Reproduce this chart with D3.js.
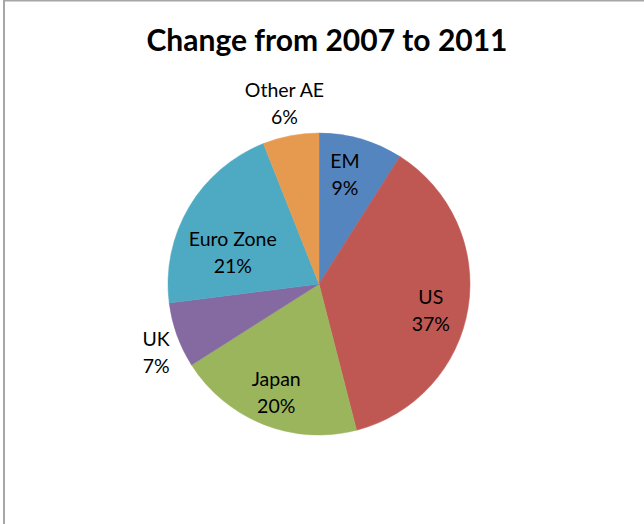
<!DOCTYPE html>
<html>
<head>
<meta charset="utf-8">
<script src="https://cdn.jsdelivr.net/npm/d3@7"></script>
<style>
  html, body { margin: 0; padding: 0; background: #fff; }
  svg { display: block; }
</style>
</head>
<body>
<svg id="chart" width="644" height="524"></svg>
<script>
// ---- data ----
const categories = ["EM", "US", "Japan", "UK", "Euro Zone", "Other AE"];
const shares = [9, 37, 20, 7, 21, 6];
const chartTitle = "Change from 2007 to 2011";

// ---- style ----
const colors = ["#5585BE", "#BF5753", "#9BB55C", "#846AA1", "#4EAAC3", "#E69A50"];
// label placement (best-fit style): radius factor relative to pie radius, angle shift in degrees
const labelRadiusFactor = [0.75, 0.76, 0.77, 1.17, 0.61, 1.22];
const labelAngleShift = [-3, 4, 0, -3, -10, 0];

const W = 644, H = 524;
const cx = 319, cy = 284, R = 151;
const svg = d3.select("#chart");

// frame
svg.append("rect")
  .attr("x", 4).attr("y", 0.5)
  .attr("width", W + 10).attr("height", H + 10)
  .attr("fill", "none")
  .attr("stroke", "#a6a6a6")
  .attr("stroke-width", 2);

// title
svg.append("text")
  .attr("x", 327).attr("y", 51)
  .attr("text-anchor", "middle")
  .attr("font-family", "Lato, 'Open Sans', sans-serif")
  .attr("font-weight", "bold")
  .attr("font-size", 30)
  .attr("fill", "#000")
  .text(chartTitle);

const total = d3.sum(shares);
const data = categories.map((c, i) => ({ name: c, value: shares[i], i }));

const pie = d3.pie().value(d => d.value).sort(null);
const arcs = pie(data);
const arc = d3.arc().innerRadius(0).outerRadius(R);

const g = svg.append("g").attr("transform", `translate(${cx},${cy})`);

g.selectAll("path")
  .data(arcs)
  .join("path")
  .attr("d", arc)
  .attr("fill", d => colors[d.data.i])
  .attr("stroke", d => colors[d.data.i])
  .attr("stroke-width", 0.5);

const fmt = d3.format(".0%");
const labels = g.selectAll("g.lbl")
  .data(arcs)
  .join("g")
  .attr("class", "lbl")
  .attr("transform", d => {
    const a = (d.startAngle + d.endAngle) / 2 + labelAngleShift[d.data.i] * Math.PI / 180;
    const r = R * labelRadiusFactor[d.data.i];
    return `translate(${r * Math.sin(a)},${-r * Math.cos(a)})`;
  });

labels.append("text")
  .attr("text-anchor", "middle")
  .attr("font-family", "Lato, 'Open Sans', sans-serif")
  .attr("font-size", 19.5)
  .attr("fill", "#000")
  .selectAll("tspan")
  .data(d => [d.data.name, fmt(d.data.value / total)])
  .join("tspan")
  .attr("x", 0)
  .attr("y", (t, j) => j === 0 ? -6 : 21)
  .text(t => t);
</script>
</body>
</html>
